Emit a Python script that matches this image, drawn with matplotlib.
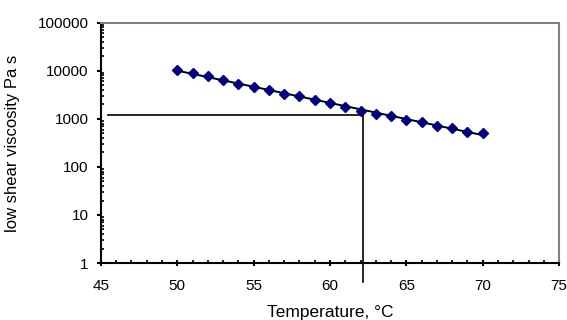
import numpy as np
import matplotlib
matplotlib.use('Agg')
import matplotlib.pyplot as plt
from matplotlib.ticker import FixedLocator, LogLocator, NullFormatter, MultipleLocator
from matplotlib import rcParams
rcParams['font.family'] = 'sans-serif'
rcParams['font.sans-serif'] = ['Liberation Sans', 'DejaVu Sans']

# data
temperature = [50, 51, 52, 53, 54, 55, 56, 57, 58, 59, 60,
               61, 62, 63, 64, 65, 66, 67, 68, 69, 70]
viscosity = [10500, 8960, 7610, 6280, 5360, 4570, 4070, 3360, 2920, 2490, 2120,
             1800, 1490, 1270, 1120, 950, 840, 725, 659, 544, 503]

# reference lines (L-shaped marker)
ref_T = 62.15
ref_visc = 1210
ref_T_start = 45.45
ref_visc_bottom = 0.4

y_ticks = [1, 10, 100, 1000, 10000, 100000]
x_ticks = [45, 50, 55, 60, 65, 70, 75]

fig = plt.figure(figsize=(5.67, 3.2), dpi=100)
ax = fig.add_axes([0.178, 0.178, 0.808, 0.751])

T = np.array(temperature, dtype=float)
V = np.array(viscosity, dtype=float)

# exponential trendline (like the spreadsheet one)
coef = np.polyfit(T, np.log10(V), 1)
ax.plot(T, 10**np.polyval(coef, T), color='black', linewidth=1.4, zorder=2)
ax.plot(T, V, linestyle='none', marker='D', markersize=5.2,
        color='#000080', zorder=3)

ax.plot([ref_T_start, ref_T, ref_T], [ref_visc, ref_visc, ref_visc_bottom],
        color='black', linewidth=1.2, clip_on=False, zorder=2)

ax.set_yscale('log')
ax.set_xlim(45, 75)
ax.set_ylim(1, 100000)

ax.yaxis.set_major_locator(FixedLocator(y_ticks))
ax.set_yticklabels([str(v) for v in y_ticks])
ax.yaxis.set_minor_locator(LogLocator(base=10, subs=np.arange(2, 10)))
ax.yaxis.set_minor_formatter(NullFormatter())
ax.set_xticks(x_ticks)
ax.set_xticklabels([str(v) for v in x_ticks])
ax.xaxis.set_minor_locator(MultipleLocator(1))

ax.tick_params(axis='y', which='major', direction='out', length=3, width=1.5,
               labelsize=11, pad=6)
ax.tick_params(axis='y', which='minor', direction='in', length=2.5, width=1.2)
ax.tick_params(axis='x', which='major', direction='inout', length=5, width=1.5,
               labelsize=11, pad=9)
ax.tick_params(axis='x', which='minor', direction='in', length=2.5, width=1.2)

for side in ['left', 'bottom']:
    ax.spines[side].set_linewidth(1.5)
    ax.spines[side].set_color('black')
for side in ['top', 'right']:
    ax.spines[side].set_linewidth(1.5)
    ax.spines[side].set_color('#808080')

ax.set_xlabel('Temperature, \u00b0C', fontsize=12.5)
ax.xaxis.set_label_coords(0.5, -0.175)
ax.set_ylabel('low shear viscosity Pa s', fontsize=12)
ax.yaxis.set_label_coords(-0.176, 0.5)

fig.savefig('out.png', dpi=100)
